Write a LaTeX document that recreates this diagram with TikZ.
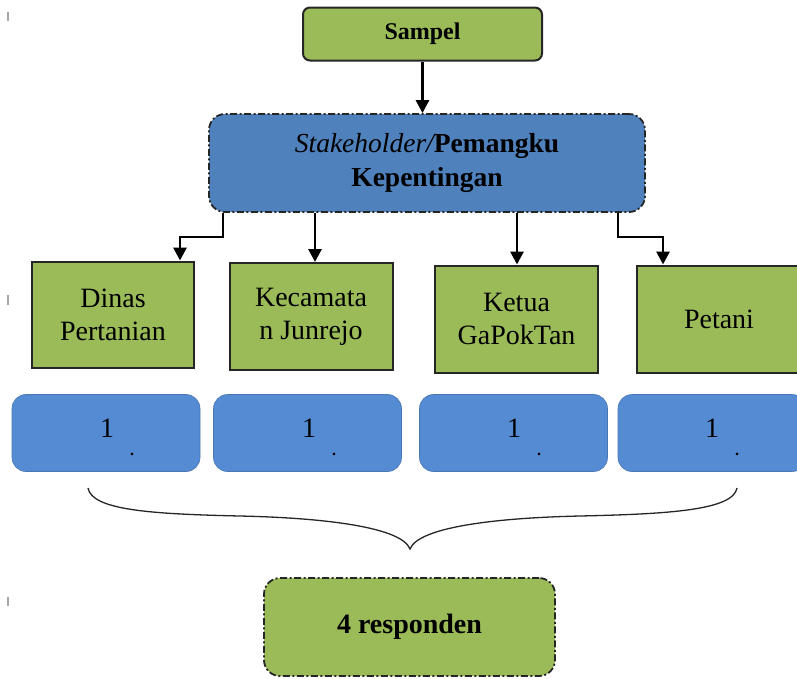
\documentclass[tikz,border=0pt]{standalone}
\usepackage{fontspec}
\setmainfont{LiberationSerif}[Extension=.ttf, UprightFont=*-Regular, BoldFont=*-Bold, ItalicFont=*-Italic, BoldItalicFont=*-BoldItalic]
\usetikzlibrary{arrows.meta}
\definecolor{gfill}{HTML}{9BBB59}
\definecolor{bfill}{HTML}{4F81BD}
\definecolor{rowblue}{HTML}{558BD3}
\definecolor{edge}{HTML}{262626}
\begin{document}
\begin{tikzpicture}[x=1pt,y=-1pt,
  greenbox/.style={draw=edge, line width=2pt, fill=gfill, inner sep=0pt, align=center,
     font=\fontsize{28}{33}\selectfont},
  topbox/.style={greenbox, rounded corners=7pt, font=\fontsize{24}{28}\selectfont\bfseries},
  dashbox/.style={draw=edge, line width=1.8pt, rounded corners=16pt, inner sep=0pt, align=center,
     dash pattern=on 7pt off 2.5pt on 2pt off 2.5pt, font=\fontsize{27.5}{34}\selectfont\bfseries},
  numbox/.style={draw=rowblue!85!black, line width=0.6pt, fill=rowblue, rounded corners=14pt,
     minimum width=188pt, minimum height=77pt, inner sep=0pt},
  numtext/.style={inner sep=0pt, font=\fontsize{28}{28}\selectfont},
  dottext/.style={inner sep=0pt, font=\fontsize{16}{16}\selectfont\bfseries},
  arr/.style={line width=2.8pt, -{Triangle[length=13pt,width=13pt]}},
  tick/.style={draw=gray!70, line width=1.6pt}]
\useasboundingbox (0,0) rectangle (797,678);

% tiny margin marks
\draw[tick] (8,12) -- (8,21);
\draw[tick] (8,295) -- (8,305);
\draw[tick] (8,597) -- (8,606);

% top
\node[topbox, minimum width=239pt, minimum height=53pt] (sampel) at (422.5,34) {Sampel};
\node[dashbox, fill=bfill, minimum width=436pt, minimum height=98pt] (stake) at (427,163)
  {{\mdseries\itshape Stakeholder/}Pemangku\\Kepentingan};

\draw[arr] (sampel.south) -- (stake.north -| sampel.south);

% second row
\node[greenbox, minimum width=162pt, minimum height=106pt] (dinas) at (113,314.5) {Dinas\\Pertanian};
\node[greenbox, minimum width=163pt, minimum height=107pt] (kec) at (311,316.5) {Kecamata\\n Junrejo};
\node[greenbox, minimum width=163pt, minimum height=107pt] (ketua) at (516.5,319) {Ketua\\GaPokTan};
\node[greenbox, minimum width=164pt, minimum height=107pt] (petani) at (719,319) {Petani};

\draw[arr] (stake.south -| 223,0) -- ++(0,24) -| (dinas.north -| 180,0);
\draw[arr] (stake.south -| 315,0) -- (kec.north -| 315,0);
\draw[arr] (stake.south -| 517,0) -- (ketua.north -| 517,0);
\draw[arr] (stake.south -| 618,0) -- ++(0,24) -| (petani.north -| 663,0);

% number row
\foreach \n/\cx/\tx in {a/106/107, b/307.5/309, c/513.5/514, d/712/712}{
  \node[numbox] (box\n) at (\cx,433) {};
  \node[numtext, anchor=base] (one\n) at (\tx,437) {1};
  \node[dottext, anchor=base] (dot\n) at (\tx+25,455) {.};
}

% brace
\draw[edge, line width=1.3pt] (88,488) .. controls (92,510) and (150,514) .. (240,516)
   .. controls (330,518) and (402,528) .. (410,549)
   .. controls (418,528) and (490,518) .. (580,516)
   .. controls (670,514) and (733,510) .. (737,488);

% bottom
\node[dashbox, fill=gfill, minimum width=291pt, minimum height=98pt,
  font=\fontsize{28}{34}\selectfont\bfseries] (resp) at (409.5,627) {4 responden};
\end{tikzpicture}
\end{document}
